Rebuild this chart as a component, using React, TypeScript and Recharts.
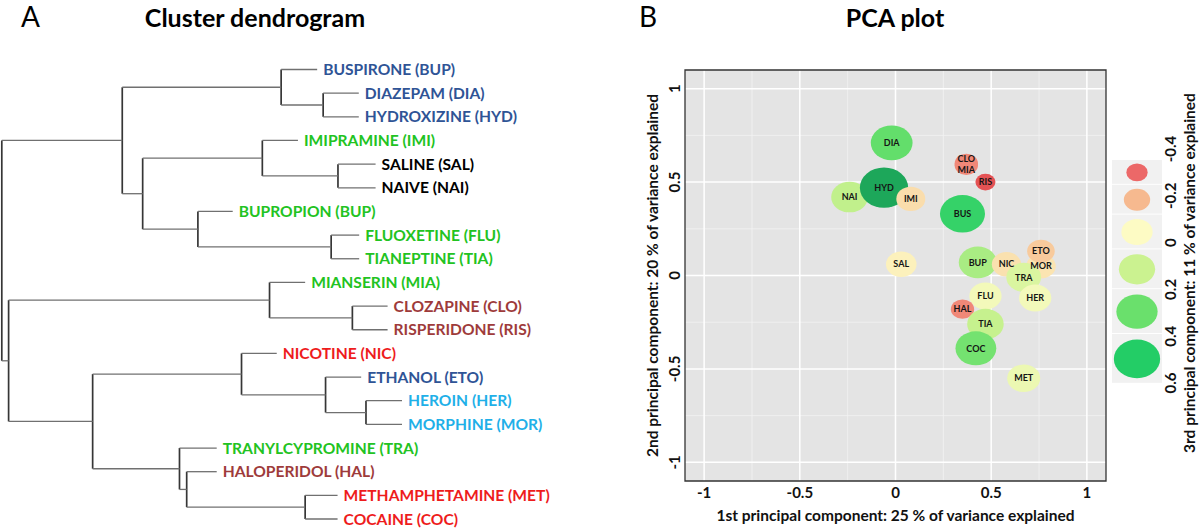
import React from "react";
import {
  ScatterChart,
  Scatter,
  XAxis,
  YAxis,
  CartesianGrid,
  ReferenceLine,
  ReferenceArea,
} from "recharts";

const FONT = "Lato, 'Open Sans', sans-serif";

// ---------- panel A: cluster dendrogram ----------
// leaves, top to bottom
const leafLabels = [
  "BUSPIRONE (BUP)",
  "DIAZEPAM (DIA)",
  "HYDROXIZINE (HYD)",
  "IMIPRAMINE (IMI)",
  "SALINE (SAL)",
  "NAIVE (NAI)",
  "BUPROPION (BUP)",
  "FLUOXETINE (FLU)",
  "TIANEPTINE (TIA)",
  "MIANSERIN (MIA)",
  "CLOZAPINE (CLO)",
  "RISPERIDONE (RIS)",
  "NICOTINE (NIC)",
  "ETHANOL (ETO)",
  "HEROIN (HER)",
  "MORPHINE (MOR)",
  "TRANYLCYPROMINE (TRA)",
  "HALOPERIDOL (HAL)",
  "METHAMPHETAMINE (MET)",
  "COCAINE (COC)",
];
const leafGroups = [
  "anxiolytic", "anxiolytic", "anxiolytic", "antidepressant", "control", "control",
  "antidepressant", "antidepressant", "antidepressant", "antidepressant", "antipsychotic",
  "antipsychotic", "stimulant", "anxiolytic", "opioid", "opioid", "antidepressant",
  "antipsychotic", "stimulant", "stimulant",
];
// height where each leaf branch ends (hang)
const leafTipHeights = [
  21.2, 10.8, 10.8, 26.0, 6.6, 6.6, 42.3, 10.7, 10.7, 24.2,
  3.6, 3.6, 31.3, 10.2, 0, 0, 46.3, 46.3, 16.1, 16.1,
];
// hclust-style merges: negative = leaf (1-based), positive = earlier merge (1-based)
const mergeLeft = [-2, -1, -5, -4, -8, -7, 4, 2, -11, -10, -15, -14, -13, -19, -18, -17, 13, 10, 8];
const mergeRight = [-3, 1, -6, 3, -9, 5, 6, 7, -12, 9, -16, 11, 12, -20, 14, 15, 16, 17, 18];
const mergeHeights = [
  19.7, 30.2, 16.0, 34.9, 17.7, 51.0, 64.8, 69.9, 12.4, 33.1,
  9.0, 19.1, 40.1, 24.2, 53.8, 55.6, 77.3, 98.3, 100,
];

const groupColors: Record<string, string> = {
  anxiolytic: "#2f5496",
  antidepressant: "#22c322",
  control: "#000000",
  antipsychotic: "#9e3b3b",
  stimulant: "#ee1c1c",
  opioid: "#1fb0e8",
};

// ---------- panel B: PCA ----------
const pcaNames = [
  "NAI", "HYD", "IMI", "DIA", "CLO", "MIA", "RIS", "BUS", "SAL", "BUP",
  "NIC", "MOR", "ETO", "TRA", "FLU", "HER", "HAL", "TIA", "COC", "MET",
];
const pc1 = [
  -0.24, -0.06, 0.08, -0.02, 0.37, 0.37, 0.47, 0.35, 0.03, 0.43,
  0.58, 0.76, 0.76, 0.67, 0.47, 0.73, 0.35, 0.47, 0.42, 0.67,
];
const pc2 = [
  0.42, 0.47, 0.41, 0.71, 0.6, 0.59, 0.5, 0.33, 0.06, 0.07,
  0.06, 0.05, 0.13, -0.01, -0.11, -0.12, -0.18, -0.26, -0.39, -0.55,
];
const pc3 = [
  0.22, 0.68, -0.09, 0.42, -0.32, -0.32, -0.45, 0.55, -0.03, 0.27,
  -0.08, -0.07, -0.15, 0.14, 0.04, 0.04, -0.32, 0.21, 0.38, 0.07,
];
const majorTicks = [-1, -0.5, 0, 0.5, 1];
const minorTicks = [-0.75, -0.25, 0.25, 0.75];
const legendValues = [-0.4, -0.2, 0, 0.2, 0.4, 0.6];

const labelNudge: Record<string, number> = { CLO: -5, MIA: 5 };

const colorStops: [number, number[]][] = [
  [-0.5, [220, 60, 64]],
  [-0.4, [236, 104, 104]],
  [-0.2, [246, 185, 143]],
  [0, [253, 251, 196]],
  [0.2, [203, 242, 144]],
  [0.4, [106, 224, 108]],
  [0.6, [35, 205, 102]],
  [0.7, [27, 157, 87]],
];

function colorOf(v: number) {
  if (v <= colorStops[0][0]) return `rgb(${colorStops[0][1].join(",")})`;
  for (let k = 1; k < colorStops.length; k++) {
    const [v1, c1] = colorStops[k];
    const [v0, c0] = colorStops[k - 1];
    if (v <= v1) {
      const t = (v - v0) / (v1 - v0);
      const c = c0.map((a, j) => Math.round(a + (c1[j] - a) * t));
      return `rgb(${c.join(",")})`;
    }
  }
  return `rgb(${colorStops[colorStops.length - 1][1].join(",")})`;
}

const sizeOf = (v: number) => 31.3 + 25 * v; // ellipse width in px
const ASPECT = 1.2;

function buildSegments() {
  const segs: { x1: number; y1: number; x2: number; y2: number; v: boolean }[] = [];
  const mergeY: number[] = [];
  const node = (ref: number) =>
    ref < 0
      ? { x: leafTipHeights[-ref - 1], y: -ref - 1 }
      : { x: mergeHeights[ref - 1], y: mergeY[ref - 1] };
  mergeHeights.forEach((h, i) => {
    const a = node(mergeLeft[i]);
    const b = node(mergeRight[i]);
    mergeY[i] = (a.y + b.y) / 2;
    segs.push({ x1: h, y1: a.y, x2: h, y2: b.y, v: true });
    segs.push({ x1: h, y1: a.y, x2: a.x, y2: a.y, v: false });
    segs.push({ x1: h, y1: b.y, x2: b.x, y2: b.y, v: false });
  });
  return segs;
}

const segments = buildSegments();
const leaves = leafLabels.map((label, i) => ({
  h: leafTipHeights[i],
  i,
  label,
  color: groupColors[leafGroups[i]],
}));
const pcaPoints = pcaNames.map((name, i) => ({ name, pc1: pc1[i], pc2: pc2[i], pc3: pc3[i] }));

function LeafLabel(props: any) {
  const { cx, cy, payload } = props;
  return (
    <text
      x={cx + 6}
      y={cy}
      dy="0.36em"
      fill={payload.color}
      fontFamily={FONT}
      fontWeight={700}
      fontSize={15.6}
    >
      {payload.label}
    </text>
  );
}

function Bubble(props: any) {
  const { cx, cy, payload } = props;
  const w = sizeOf(payload.pc3);
  return <ellipse cx={cx} cy={cy} rx={w / 2} ry={w / 2 / ASPECT} fill={colorOf(payload.pc3)} />;
}

function BubbleLabel(props: any) {
  const { cx, cy, payload } = props;
  return (
    <text
      x={cx}
      y={cy + (labelNudge[payload.name] || 0)}
      dy="0.35em"
      textAnchor="middle"
      fontFamily={FONT}
      fontWeight={700}
      fontSize={9}
      fill="#151515"
    >
      {payload.name}
    </text>
  );
}

function XTick(props: any) {
  const { x, y, payload } = props;
  return (
    <text x={x} y={y + 12} dy="0.35em" textAnchor="middle" fontFamily={FONT} fontWeight={700} fontSize={15} fill="#111">
      {String(payload.value)}
    </text>
  );
}

function YTick(props: any) {
  const { x, y, payload } = props;
  const tx = x - 10;
  return (
    <text
      x={tx}
      y={y}
      dy="0.35em"
      textAnchor="middle"
      transform={`rotate(-90, ${tx}, ${y})`}
      fontFamily={FONT}
      fontWeight={700}
      fontSize={15}
      fill="#111"
    >
      {String(payload.value)}
    </text>
  );
}

function Legend3() {
  let top = 160;
  const keys = legendValues.map((v) => {
    const w = sizeOf(v);
    const kh = w + 3.5;
    const k = { v, w, y: top, kh };
    top += kh;
    return k;
  });
  return (
    <g>
      {keys.map((k) => (
        <g key={k.v}>
          <rect x={1112} y={k.y} width={50} height={k.kh - 1} fill="#f1f1f1" />
          <ellipse cx={1137} cy={k.y + k.kh / 2} rx={k.w / 2} ry={k.w / 2 / ASPECT} fill={colorOf(k.v)} />
        </g>
      ))}
      {legendValues.map((v, i) => {
        const ly = 149 + i * 46.8;
        return (
          <text
            key={v}
            x={1171}
            y={ly}
            dy="0.35em"
            textAnchor="middle"
            transform={`rotate(-90, 1171, ${ly})`}
            fontFamily={FONT}
            fontWeight={700}
            fontSize={15}
            fill="#111"
          >
            {String(v)}
          </text>
        );
      })}
      <text
        x={1190}
        y={273}
        dy="0.35em"
        textAnchor="middle"
        transform="rotate(-90, 1190, 273)"
        fontFamily={FONT}
        fontWeight={700}
        fontSize={15.5}
        fill="#111"
      >
        3rd principal component: 11 % of variance explained
      </text>
    </g>
  );
}

export default function App() {
  return (
    <div
      style={{
        position: "absolute",
        left: 0,
        top: 0,
        width: 1200,
        height: 529,
        background: "#fff",
        fontFamily: FONT,
        overflow: "hidden",
      }}
    >
      <div style={{ position: "absolute", left: 0, top: 0 }}>
        <ScatterChart width={560} height={529} margin={{ top: 69.5, right: 158, bottom: 10, left: 1.8 }}>
          <XAxis type="number" dataKey="h" domain={[0, 100]} reversed hide />
          <YAxis type="number" dataKey="i" domain={[0, 19]} reversed hide />
          {segments.map((s, k) => (
            <ReferenceLine
              key={k}
              segment={[
                { x: s.x1, y: s.y1 },
                { x: s.x2, y: s.y2 },
              ]}
              stroke={s.v ? "#363636" : "#707070"}
              strokeWidth={s.v ? 1.7 : 1.3}
              ifOverflow="visible"
            />
          ))}
          <Scatter data={leaves} shape={LeafLabel} isAnimationActive={false} />
        </ScatterChart>
      </div>

      <div style={{ position: "absolute", left: 640, top: 0 }}>
        <ScatterChart width={560} height={529} margin={{ top: 70, right: 94, bottom: 0, left: 0 }}>
          <CartesianGrid
            fill="#e4e4e4"
            stroke="#f3f3f3"
            strokeWidth={0.8}
            horizontalValues={minorTicks}
            verticalValues={minorTicks}
          />
          <CartesianGrid stroke="#ffffff" strokeWidth={1.5} horizontalValues={majorTicks} verticalValues={majorTicks} />
          <XAxis
            type="number"
            dataKey="pc1"
            domain={[-1.1, 1.1]}
            ticks={majorTicks}
            height={48}
            tickSize={0}
            tickMargin={0}
            axisLine={false}
            tick={XTick}
            label={{
              value: "1st principal component: 25 % of variance explained",
              position: "insideBottom",
              offset: 8,
              fontFamily: FONT,
              fontWeight: 700,
              fontSize: 15.5,
              fill: "#111",
            }}
          />
          <YAxis
            type="number"
            dataKey="pc2"
            domain={[-1.1, 1.1]}
            ticks={majorTicks}
            width={45}
            tickSize={0}
            tickMargin={0}
            axisLine={false}
            tick={YTick}
            label={{
              value: "2nd principal component: 20 % of variance explained",
              angle: -90,
              position: "insideLeft",
              offset: 12,
              fontFamily: FONT,
              fontWeight: 700,
              fontSize: 15.5,
              fill: "#111",
              style: { textAnchor: "middle" },
            }}
          />
          <ReferenceArea
            x1={-1.1}
            x2={1.1}
            y1={-1.1}
            y2={1.1}
            fill="none"
            stroke="#333"
            strokeWidth={1.3}
            ifOverflow="visible"
          />
          <Scatter data={pcaPoints} shape={Bubble} isAnimationActive={false} />
          <Scatter data={pcaPoints} shape={BubbleLabel} isAnimationActive={false} />
        </ScatterChart>
      </div>

      <svg width={1200} height={529} style={{ position: "absolute", left: 0, top: 0, pointerEvents: "none" }}>
        <text x={21} y={27} fontFamily={FONT} fontSize={28} fill="#000">A</text>
        <text x={255} y={27} textAnchor="middle" fontFamily={FONT} fontWeight={700} fontSize={25} fill="#000">
          Cluster dendrogram
        </text>
        <text x={639} y={27} fontFamily={FONT} fontSize={28} fill="#000">B</text>
        <text x={895} y={27} textAnchor="middle" fontFamily={FONT} fontWeight={700} fontSize={25} fill="#000">
          PCA plot
        </text>
        <Legend3 />
      </svg>
    </div>
  );
}
